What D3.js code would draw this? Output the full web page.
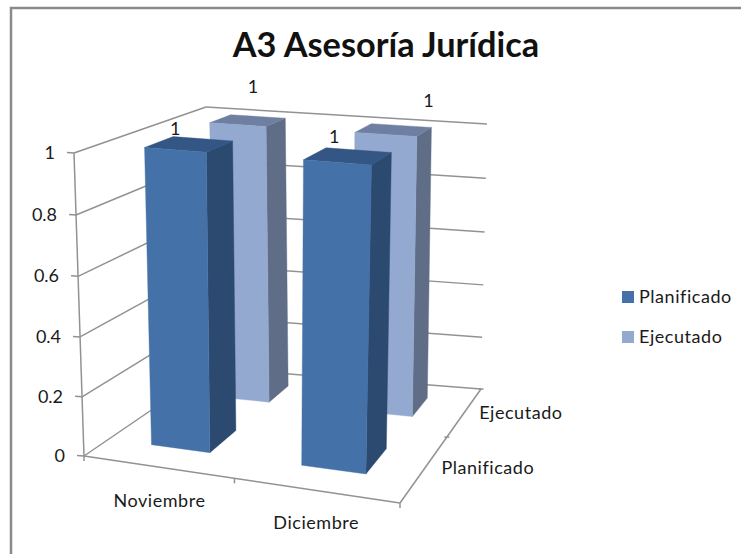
<!DOCTYPE html>
<html><head><meta charset="utf-8">
<script src="https://d3js.org/d3.v7.min.js"></script>
<style>html,body{margin:0;padding:0;background:#fff}svg{display:block}text{font-family:Lato,"Open Sans",sans-serif;fill:#1a1a1a}</style>
</head><body><svg id="c" width="741" height="554"></svg>
<script>
const chartTitle = "A3 Asesoría Jurídica";
const categories = ["Noviembre", "Diciembre"];
const seriesNames = ["Planificado", "Ejecutado"];
const planificado = [1, 1];
const ejecutado = [1, 1];
const valueTicks = [0, 0.2, 0.4, 0.6, 0.8, 1];
const seriesFront = ["#4472a8", "#93a9cf"];
const seriesSide  = ["#2c4a70", "#5f6d87"];
const seriesTop   = ["#335684", "#6e7fa1"];
const labelOffsets = [[[-14,-9],[5,-27]],[[-14,-13],[35,-23]]];
const seriesValues = [planificado, ejecutado];

// Cube corners of the chart box on screen [cat, depth, value]
const floor = {c00:[84,456], c10:[400,503], c11:[481,389], c01:[213,368]};
const roof  = {c00:[74,153], c10:[409,180], c11:[487,124], c01:[206,107]};
const warp = r => t => t/(t + r*(1-t));
const wu = warp(1.1), wd = warp(0.73), wv = warp(1.03);
const bil = (q,u,d) => [0,1].map(i => q.c00[i]*(1-u)*(1-d)+q.c10[i]*u*(1-d)+q.c11[i]*u*d+q.c01[i]*(1-u)*d);
function project(u,d,v){
  const U=wu(u), D=wd(d), V=wv(v);
  const a=bil(floor,U,D), b=bil(roof,U,D);
  return [a[0]+(b[0]-a[0])*V, a[1]+(b[1]-a[1])*V];
}
const x = d3.scaleBand().domain(categories).range([0,1]).paddingInner(0.6).paddingOuter(0.3);
const z = d3.scaleBand().domain(seriesNames).range([0,1]).paddingInner(0.6).paddingOuter(0.3);
const y = d3.scaleLinear().domain([0,1]).range([0,1]);

const svg = d3.select("#c");
const line = d3.line();
const AXIS = "#929292";
const seg = (p,q,w=1.5) => svg.append("path").attr("d",line([p,q])).attr("fill","none").attr("stroke",AXIS).attr("stroke-width",w);

// frame
svg.append("path").attr("d",line([[11,554],[11,8],[741,8]])).attr("fill","none").attr("stroke","#8a8a8a").attr("stroke-width",2.5);

// title
svg.append("text").attr("x",386).attr("y",57).attr("text-anchor","middle")
  .style("font-size","34.3px").style("font-weight",700).style("fill","#111").text(chartTitle);

// gridlines on left and back walls
valueTicks.forEach(t=>{
  const v=y(t);
  seg(project(0,0,v),project(0,1,v));
  seg(project(0,1,v),project(1,1,v));
});

// axes
seg(project(0,0,0),project(0,0,1));
seg(project(0,0,0),project(1,0,0));
seg(project(1,0,0),project(1,1,0));
valueTicks.forEach(t=>{
  const p=project(0,0,y(t));
  seg([p[0]-7,p[1]-0.5],p);
  svg.append("text").attr("x",p[0]-19).attr("y",p[1]+6).attr("text-anchor","end")
    .style("font-size","18px").text(d3.format("~g")(t));
});
[0,0.5,1].forEach(u=>{const p=project(u,0,0); seg(p,[p[0],p[1]+5]);});
[0.5,1].forEach(d=>{const p=project(1,d,0); seg([p[0]-2.5,p[1]],[p[0]+2.5,p[1]]);});

// category and depth labels
const labelStyle = sel => sel.style("font-size","18px").style("letter-spacing","0.55px");
categories.forEach((c,i)=>{
  const p=project(x(c)+x.bandwidth()/2,0,0);
  svg.append("text").attr("x",p[0]+(i?1:2)).attr("y",p[1]+(i?39:40)).attr("text-anchor","middle")
    .call(labelStyle).text(c);
});
seriesNames.forEach((s,i)=>{
  const p=project(1,z(s)+z.bandwidth()/2,0);
  svg.append("text").attr("x",p[0]+(i?14:16)).attr("y",p[1]+(i?8:7)).call(labelStyle).text(s);
});

// bars, back row first
const poly = (pts,fill) => svg.append("path").attr("d",line(pts)+"Z").attr("fill",fill).attr("stroke",fill).attr("stroke-width",0.4);
[1,0].forEach(si=>{
  const s=seriesNames[si];
  categories.forEach((c,ci)=>{
    const u0=x(c),u1=u0+x.bandwidth(),d0=z(s),d1=d0+z.bandwidth(),v=y(seriesValues[si][ci]);
    poly([project(u1,d0,0),project(u1,d1,0),project(u1,d1,v),project(u1,d0,v)],seriesSide[si]);
    poly([project(u0,d0,v),project(u1,d0,v),project(u1,d1,v),project(u0,d1,v)],seriesTop[si]);
    poly([project(u0,d0,0),project(u1,d0,0),project(u1,d0,v),project(u0,d0,v)],seriesFront[si]);
  });
});
// data labels
[1,0].forEach(si=>{
  const s=seriesNames[si];
  categories.forEach((c,ci)=>{
    const val=seriesValues[si][ci];
    const p=project(x(c)+x.bandwidth()/2,z(s)+z.bandwidth()/2,y(val));
    const o=labelOffsets[ci][si];
    svg.append("text").attr("x",p[0]+o[0]).attr("y",p[1]+o[1]).attr("text-anchor","middle")
      .style("font-size","18px").text(val);
  });
});

// legend
seriesNames.forEach((s,i)=>{
  const ly=291+i*40;
  svg.append("rect").attr("x",622).attr("y",ly).attr("width",12).attr("height",12).attr("fill",seriesFront[i]);
  svg.append("text").attr("x",639).attr("y",ly+12).call(labelStyle).text(s);
});
</script></body></html>
